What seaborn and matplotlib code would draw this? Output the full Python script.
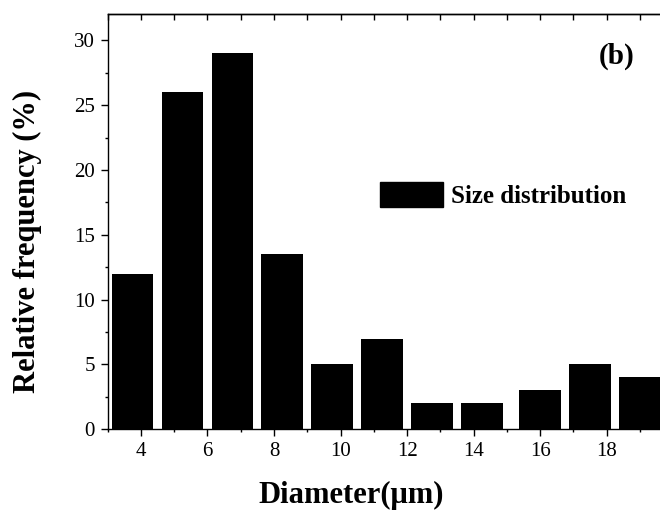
import matplotlib
matplotlib.use("Agg")
import matplotlib.pyplot as plt
from matplotlib.patches import Patch
from matplotlib.ticker import MultipleLocator
import seaborn as sns
import pandas as pd

# Histogram bins: bin centres (µm) and relative frequency (%)
diameter = [3.75, 5.25, 6.75, 8.25, 9.75, 11.25, 12.75, 14.25, 16.0, 17.5, 19.0]
frequency = [12, 26, 29, 13.5, 5, 7, 2, 2, 3, 5, 4]
x_ticks = [4, 6, 8, 10, 12, 14, 16, 18]
y_ticks = [0, 5, 10, 15, 20, 25, 30]

sns.set_theme(style="ticks")
plt.rcParams["font.family"] = ["Liberation Serif", "DejaVu Serif"]
plt.rcParams.update({
    "text.color": "black",
    "axes.labelcolor": "black",
    "axes.edgecolor": "black",
    "xtick.color": "black",
    "ytick.color": "black",
})

df = pd.DataFrame({"diameter": diameter, "frequency": frequency})

fig = plt.figure(figsize=(6.6, 5.2), dpi=100)
ax = fig.add_axes([0.163, 0.1744, 0.837, 0.7981])

sns.barplot(data=df, x="diameter", y="frequency", native_scale=True,
            width=1.25 / 1.5, color="black", saturation=1,
            edgecolor="black", linewidth=0, ax=ax)

ax.set_xlim(3, 19.6)
ax.set_ylim(0, 32)
ax.set_xticks(x_ticks)
ax.set_yticks(y_ticks)
ax.xaxis.set_minor_locator(MultipleLocator(1))
ax.yaxis.set_minor_locator(MultipleLocator(2.5))
ax.set_xlabel("")
ax.set_ylabel("")

for side in ["left", "bottom", "top"]:
    ax.spines[side].set_linewidth(1.0)
    ax.spines[side].set_color("black")
ax.spines["right"].set_visible(False)

ax.tick_params(axis="both", which="major", direction="out", length=5,
               width=1.0, labelsize=15, colors="black", pad=4)
ax.tick_params(axis="both", which="minor", direction="out", length=2.5,
               width=1.0, colors="black")
ax.tick_params(axis="x", which="major", pad=4)
ax.tick_params(axis="x", which="both", top=False)

# top spine carries inward ticks without labels
top = ax.secondary_xaxis("top")
top.set_xticks(x_ticks)
top.xaxis.set_minor_locator(MultipleLocator(1))
top.tick_params(which="major", direction="in", length=4, width=1.0,
                labeltop=False, colors="black")
top.tick_params(which="minor", direction="in", length=4, width=1.0,
                colors="black")
top.spines["top"].set_linewidth(1.0)
top.spines["top"].set_color("black")

fig.text(0.532, 0.033, "Diameter(μm)", ha="center", va="baseline",
         fontsize=22, fontweight="bold", color="black")
fig.text(0.041, 0.535, "Relative frequency (%)", ha="center", va="center",
         rotation=90, fontsize=22, fontweight="bold", color="black")
fig.text(0.935, 0.892, "(b)", ha="center", va="center",
         fontsize=21, fontweight="bold", color="black")

handle = Patch(facecolor="black", edgecolor="black", label="Size distribution")
leg = fig.legend(handles=[handle], loc="upper left",
                 bbox_to_anchor=(380 / 660, 1 - 182 / 520),
                 frameon=False, borderpad=0, borderaxespad=0,
                 handlelength=2.5, handleheight=1.14, handletextpad=0.35,
                 prop={"size": 18, "weight": "bold"})
for t in leg.get_texts():
    t.set_color("black")

fig.savefig("out.png", dpi=100)
